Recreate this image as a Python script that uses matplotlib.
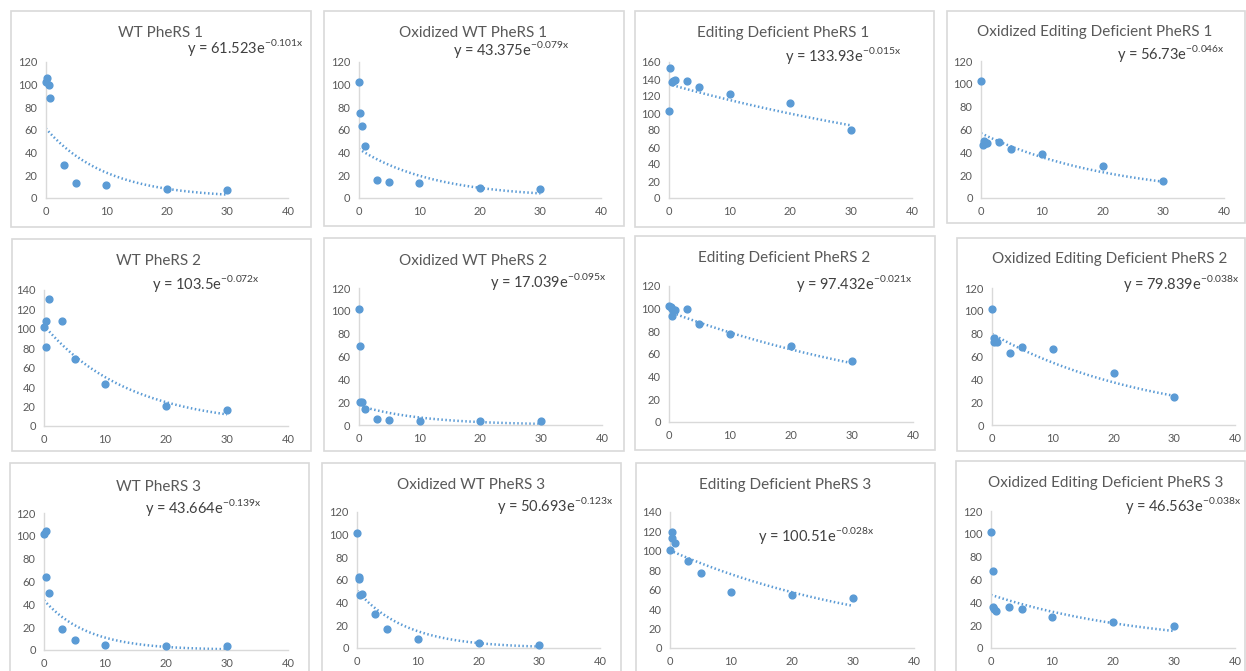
import numpy as np
import matplotlib
matplotlib.use('Agg')
import matplotlib.pyplot as plt
from matplotlib.patches import Rectangle

plt.rcParams['font.family'] = ['Lato', 'DejaVu Sans']
plt.rcParams['mathtext.fontset'] = 'custom'
plt.rcParams['mathtext.rm'] = 'Lato'

BLUE = '#5B9BD5'
GREY_TXT = '#595959'
GREY_LINE = '#D9D9D9'

titles = ['WT PheRS 1', 'Oxidized WT PheRS 1', 'Editing Deficient PheRS 1',
          'Oxidized Editing Deficient PheRS 1',
          'WT PheRS 2', 'Oxidized WT PheRS 2', 'Editing Deficient PheRS 2',
          'Oxidized Editing Deficient PheRS 2',
          'WT PheRS 3', 'Oxidized WT PheRS 3', 'Editing Deficient PheRS 3',
          'Oxidized Editing Deficient PheRS 3']

# time (min) and remaining activity (%) per experiment
x_wt1 = [0, 0.25, 0.5, 0.75, 3, 5, 10, 20, 30]
y_wt1 = [102.6, 106, 99.6, 87.8, 28.7, 13.5, 11.5, 8.2, 7.2]
x_oxwt1 = [0, 0.25, 0.5, 1, 3, 5, 10, 20, 30]
y_oxwt1 = [102.6, 75.4, 63.6, 45.5, 15.5, 14.5, 13.5, 9, 8]
x_ed1 = [0, 0.25, 0.5, 0.75, 1, 3, 5, 10, 20, 30]
y_ed1 = [102.7, 153, 136.9, 138, 139.2, 137.6, 130.6, 122, 111.4, 80.4]
x_oxed1 = [0, 0.25, 0.5, 0.75, 1, 3, 5, 10, 20, 30]
y_oxed1 = [102.4, 46.2, 50, 48.3, 48.3, 49.2, 43, 38.6, 28.4, 14.9]

x_wt2 = [0, 0.25, 0.25, 0.75, 3, 5, 10, 20, 30]
y_wt2 = [101.9, 108, 81, 130.4, 108, 69, 43.2, 20.9, 16.5]
x_oxwt2 = [0, 0.25, 0.25, 0.5, 1, 3, 5, 10, 20, 30]
y_oxwt2 = [101.8, 69.4, 19.9, 20.5, 14, 5.6, 4.7, 3.5, 3.5, 3.5]
x_ed2 = [0, 0.25, 0.5, 0.5, 1, 3, 5, 10, 20, 30]
y_ed2 = [102.4, 101.3, 93.9, 100, 98.9, 99.8, 86.3, 77.8, 67.3, 53.8]
x_oxed2 = [0, 0.25, 0.25, 0.75, 3, 5, 10, 20, 30]
y_oxed2 = [101.8, 76, 73, 72.6, 63.2, 68.2, 66.4, 45.4, 24.6]

x_wt3 = [0, 0.25, 0.25, 0.75, 3, 5, 10, 20, 30]
y_wt3 = [101.8, 103.9, 64.1, 49.5, 18.1, 8.5, 4.4, 3.5, 3.5]
x_oxwt3 = [0, 0.25, 0.25, 0.5, 0.75, 3, 5, 10, 20, 30]
y_oxwt3 = [101.6, 62.9, 60.9, 46.8, 47.4, 30.4, 16.7, 8.2, 4.1, 2.9]
x_ed3 = [0, 0.25, 0.25, 0.75, 3, 5, 10, 20, 30]
y_ed3 = [100.9, 119.4, 113.6, 108.1, 89.9, 77.6, 58, 54.6, 51.8]
x_oxed3 = [0, 0.25, 0.25, 0.5, 0.75, 3, 5, 10, 20, 30]
y_oxed3 = [101.6, 67.6, 35.7, 34, 32.5, 35.7, 34, 27.2, 22.5, 19]

xs = [x_wt1, x_oxwt1, x_ed1, x_oxed1, x_wt2, x_oxwt2, x_ed2, x_oxed2,
      x_wt3, x_oxwt3, x_ed3, x_oxed3]
ys = [y_wt1, y_oxwt1, y_ed1, y_oxed1, y_wt2, y_oxwt2, y_ed2, y_oxed2,
      y_wt3, y_oxwt3, y_ed3, y_oxed3]

# exponential trendline y = a * exp(k * x)
fit_a = [61.523, 43.375, 133.93, 56.73, 103.5, 17.039, 97.432, 79.839,
         43.664, 50.693, 100.51, 46.563]
fit_k = [-0.101, -0.079, -0.015, -0.046, -0.072, -0.095, -0.021, -0.038,
         -0.139, -0.123, -0.028, -0.038]

y_max = [120, 120, 160, 120, 140, 120, 120, 120, 120, 120, 140, 120]

# panel layout in pixels: frame box, axes extent, title centre, equation left/centre
boxes = [(11, 11, 311, 227), (324, 11, 624, 226), (635, 11, 934, 227), (947, 11, 1245, 223),
         (12, 239, 311, 451), (324, 238, 624, 451), (635, 236, 935, 450), (957, 238, 1245, 451),
         (10, 463, 309, 690), (322, 463, 621, 690), (636, 463, 935, 690), (956, 461, 1245, 690)]
axes_px = [(45.7, 288, 62, 198), (358.7, 601, 62, 198), (668.7, 912, 62, 198), (981, 1224, 61, 198),
           (44, 288, 290, 426), (358.7, 602, 288, 425), (669, 913, 286, 422), (992, 1235, 288, 425),
           (44, 288, 513, 650), (357, 600, 512, 648), (670, 914, 512, 648), (991, 1235, 511, 648)]
title_px = [(161, 33), (473, 33), (783, 33), (1095, 32),
            (159, 261), (473, 261), (784, 258), (1110, 259),
            (159, 487), (471, 485), (785, 485), (1106, 483)]
eq_px = [(187, 48), (453, 50), (785, 55), (1117, 54),
         (152, 283), (490, 281), (796, 283), (1123, 283),
         (145, 508), (497, 505), (758, 535), (1125, 505)]

W, H = 1246, 671
fig = plt.figure(figsize=(W / 100, H / 100), dpi=100)
fig.patch.set_facecolor('white')


def fx(px):
    return px / W


def fy(py):
    return 1 - py / H


for i in range(12):
    l, t, r, b = boxes[i]
    fig.patches.append(Rectangle((fx(l), fy(b)), fx(r - l), (b - t) / H,
                                 transform=fig.transFigure, fill=False,
                                 edgecolor=GREY_LINE, lw=1.2, zorder=0))

    x0, x1, yt, yb = axes_px[i]
    ax = fig.add_axes([fx(x0), fy(yb), fx(x1 - x0), (yb - yt) / H])
    ax.set_facecolor('none')
    ax.scatter(xs[i], ys[i], s=24, color=BLUE, zorder=3, clip_on=False)
    xt = np.linspace(min(xs[i]), max(xs[i]), 200)
    ax.plot(xt, fit_a[i] * np.exp(fit_k[i] * xt), color=BLUE, lw=1.8,
            linestyle=(0, (0.6, 1.0)), dash_capstyle='butt', zorder=2)

    ax.set_xlim(0, 40)
    ax.set_ylim(0, y_max[i])
    ax.set_xticks(range(0, 41, 10))
    ax.set_yticks(range(0, y_max[i] + 1, 20))
    for s in ['top', 'right']:
        ax.spines[s].set_visible(False)
    for s in ['left', 'bottom']:
        ax.spines[s].set_color(GREY_LINE)
        ax.spines[s].set_linewidth(1.0)
    ax.tick_params(length=0, labelsize=8, labelcolor=GREY_TXT, pad=6)

    tx, ty = title_px[i]
    fig.text(fx(tx), fy(ty), titles[i], ha='center', va='center',
             fontsize=11, color=GREY_TXT)
    ex, ey = eq_px[i]
    eq = 'y = {:g}e$^{{\\mathregular{{{:.3f}x}}}}$'.format(fit_a[i], fit_k[i])
    fig.text(fx(ex), fy(ey), eq, ha='left', va='center',
             fontsize=10.5, color='#404040')

fig.savefig('out.png', dpi=100)
